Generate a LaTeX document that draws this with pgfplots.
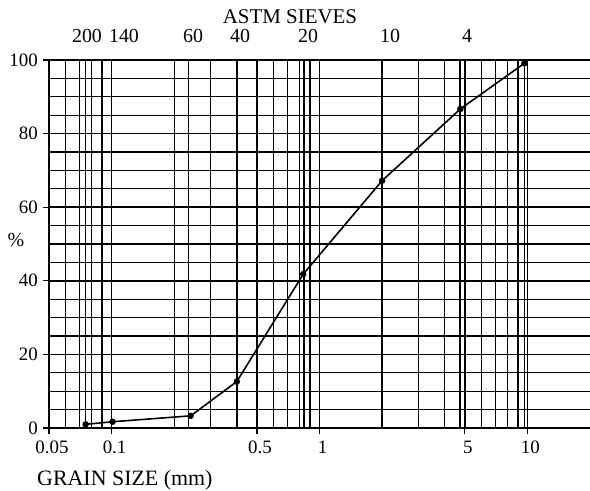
\documentclass[border=0pt]{standalone}
\usepackage{fontspec}
\setmainfont{Liberation Serif}
\usepackage{pgfplots}
\pgfplotsset{compat=1.18}
\begin{document}
\fontsize{18}{21}\selectfont
\begin{tikzpicture}[x=1bp,y=1bp]
\path[use as bounding box] (0,0) rectangle (590,491);
\begin{axis}[
  at={(49bp,63bp)}, anchor=south west,
  width=541bp, height=368bp, scale only axis,
  xmode=log, xmin=0.05, xmax=20, ymin=0, ymax=100,
  axis x line*=bottom, axis y line*=left,
  axis line style={line width=2pt, -},
  xtick={0.05,0.1,0.5,1,5,10},
  xticklabels={0.05,0.1,0.5,1,5,10},
  minor xtick={0.06,0.07,0.08,0.09,0.2,0.3,0.4,0.6,0.7,0.8,0.9,2,3,4,6,7,8,9},
  ytick={0,20,40,60,80,100},
  minor ytick={5,10,15,25,30,35,45,50,55,65,70,75,85,90,95},
  grid=both,
  major grid style={line width=1.5pt, black},
  minor grid style={line width=1.3pt, black},
  tick style={line width=1.3pt, black},
  tick align=outside,
  major tick length=6bp, minor tick length=0pt,
  xticklabel style={font=\fontsize{19}{21}\selectfont, yshift=-1bp, xshift=3bp},
  yticklabel style={font=\fontsize{19}{21}\selectfont, xshift=1bp},
  /pgf/number format/assume math mode=true,
  extra x ticks={0.075,0.1,0.235,0.4,0.84,2,4.75,9.7},
  extra x tick labels={},
  extra x tick style={grid style={line width=2.4pt, black}, major tick length=0pt},
  clip=false,
]
\addplot[black, line width=1.6pt, mark=*, mark size=2.4bp] coordinates {
  (0.075,1.0) (0.101,1.7) (0.24,3.3) (0.40,12.6) (0.835,41.8)
  (2.0,67.2) (4.76,86.7) (9.67,99.1)
};
\end{axis}
\node[anchor=base, inner sep=0pt, font=\fontsize{21}{24}\selectfont] at (290,467) {ASTM SIEVES};
\begin{scope}[every node/.style={anchor=base, inner sep=0pt, font=\fontsize{20}{22}\selectfont}]
\node at (87,448) {200};
\node at (124,448) {140};
\node at (193,448) {60};
\node at (240,448) {40};
\node at (308,448) {20};
\node at (390,448) {10};
\node at (467,448) {4};
\end{scope}
\node[font=\fontsize{20}{22}\selectfont] at (16,251) {\%};
\node[anchor=base west, inner sep=0pt, font=\fontsize{22}{24}\selectfont] at (37,5) {GRAIN SIZE (mm)};
\end{tikzpicture}
\end{document}
